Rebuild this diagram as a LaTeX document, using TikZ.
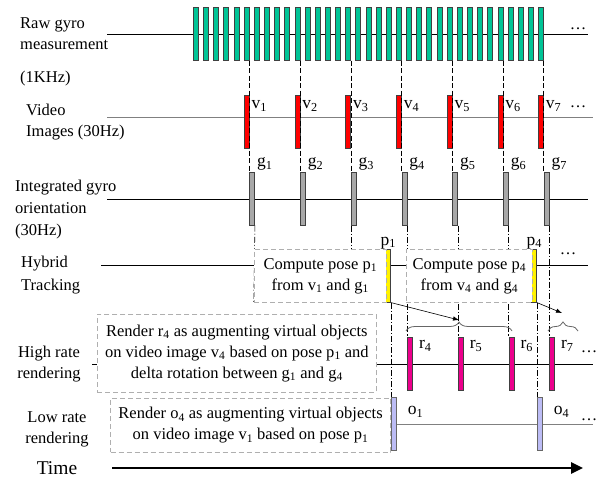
\documentclass[tikz,border=0pt]{standalone}
\usepackage{fontspec}
\setmainfont{Liberation Serif}
\usetikzlibrary{arrows.meta,decorations.pathreplacing,calc}
\pgfdeclarelayer{bg}
\pgfsetlayers{bg,main}
\definecolor{tealbar}{RGB}{0,196,150}
\definecolor{graybar}{RGB}{168,168,168}
\definecolor{lavbar}{RGB}{188,188,245}
\definecolor{boxgray}{RGB}{175,175,175}
\newcommand\lo[1]{\textsubscript{#1}}
\begin{document}
\begin{tikzpicture}[x=1pt,y=-1pt,
  every node/.style={font=\fontsize{16.5pt}{21pt}\selectfont, inner sep=0pt},
  bar/.style={draw=black!75, line width=0.6pt, minimum width=5pt, minimum height=53pt, anchor=north west, inner sep=0pt},
  rawbar/.style={bar, fill=tealbar},
  vbar/.style={bar, fill=red, anchor=north east},
  gbar/.style={bar, fill=graybar},
  pbar/.style={bar, fill=yellow, anchor=north east},
  rbar/.style={bar, fill=magenta},
  obar/.style={bar, fill=lavbar, draw=black!60},
  rowlabel/.style={align=left, anchor=west},
  lbl/.style={font=\fontsize{17.5pt}{21pt}\selectfont, anchor=west},
  dbox/.style={draw=boxgray, dash pattern=on 5pt off 3pt, line width=0.8pt, fill=white, align=center, inner sep=0pt},
  vdash/.style={black, line width=0.6pt, dash pattern=on 5pt off 2.5pt},
  vdashdot/.style={black, line width=0.6pt, dash pattern=on 6pt off 2pt on 1.2pt off 2pt},
  hline/.style={line width=0.8pt},
  bracestyle/.style={draw=black!60, line width=0.8pt, decorate, decoration={brace, amplitude=9pt}},
  tip/.style={line width=0.6pt, -{Latex[length=6pt,width=4.5pt]}}
]
\useasboundingbox (0,0) rectangle (607,481);

% row labels
\node[rowlabel] (lraw) at (20,34) {Raw gyro\\measurement};
\node[rowlabel] (lkhz) at (20,79) {(1KHz)};
\node[rowlabel] (lvid) at (26,122) {Video\\Images (30Hz)};
\node[rowlabel, font=\fontsize{16.5pt}{22pt}\selectfont] (lint) at (15,210) {Integrated gyro\\orientation\\(30Hz)};
\node[rowlabel, font=\fontsize{16.5pt}{23pt}\selectfont] (lhyb) at (21,275.5) {Hybrid\\Tracking};
\node[align=center] (lhigh) at (49,364) {High rate\\rendering};
\node[align=center] (llow) at (57,429) {Low rate\\rendering};
\node[font=\fontsize{19.5pt}{22pt}\selectfont] (ltime) at (57,468) {Time};

% raw gyro bars
\foreach \k in {0,...,34} \node[rawbar] (gy\k) at ({193+10.15*\k},7) {};

% video and gyro orientation bars
\foreach \i/\k in {1/5,2/10,3/15,4/20,5/25,6/30,7/34} {
  \node[vbar] (v\i) at (gy\k.south east |- 0,95) {};
  \node[gbar] (g\i) at (gy\k.south east |- 0,172) {};
  \node[lbl] (vl\i) at ($(v\i.north east)+(2,11)$) {v\lo{\i}};
  \node[lbl] (gl\i) at ($(g\i.north east)+(2,-8)$) {g\lo{\i}};
}

% hybrid tracking
\node[pbar] (p1) at (391,249) {};
\node[pbar] (p4) at (537,249) {};
\node[lbl, anchor=south] (pl1) at (p1.north) {p\lo{1}};
\node[lbl, anchor=south] (pl4) at (p4.north) {p\lo{4}};
\node[dbox, anchor=north west, minimum width=132.25pt, minimum height=53pt] (c1) at (253.75,249) {Compute pose p\lo{1}\\from v\lo{1} and g\lo{1}};
\node[dbox, anchor=north west, minimum width=126pt, minimum height=53pt] (c2) at (406,249) {Compute pose p\lo{4}\\from v\lo{4} and g\lo{4}};

% high rate rendering
\foreach \i in {4,...,7} {
  \node[rbar] (r\i) at (g\i.south east |- 0,337) {};
  \node[lbl] (rl\i) at ($(r\i.north east)+(6,9)$) {r\lo{\i}};
}
\node[dbox, anchor=north west, minimum width=279pt, minimum height=78pt] (rh) at (97,314) {Render r\lo{4} as augmenting virtual objects\\on video image v\lo{4} based on pose p\lo{1} and\\delta rotation between g\lo{1} and g\lo{4}};

% low rate rendering
\node[obar] (o1) at (p1.north east |- 0,397) {};
\node[obar] (o4) at (p4.north east |- 0,397) {};
\node[lbl] (ol1) at ($(o1.north east)+(11,15)$) {o\lo{1}};
\node[lbl] (ol4) at ($(o4.north east)+(11,15)$) {o\lo{4}};
\node[dbox, anchor=north east, minimum width=280pt, minimum height=54pt] (rl) at (o1.north west |- 0,398) {Render o\lo{4} as augmenting virtual objects\\on video image v\lo{1} based on pose p\lo{1}};

% ellipses
\node (e1) at (578,29) {\ldots};
\node (e2) at (578,107) {\ldots};
\node (e3) at (568,254) {\ldots};
\node (e4) at (589,352) {\ldots};
\node (e5) at (589,420) {\ldots};

% coordinates
\coordinate (rawL) at (107,34);   \coordinate (rawR) at (588,34);
\coordinate (vidL) at (107,117);  \coordinate (vidR) at (593,117);
\coordinate (intL) at (107,199);  \coordinate (intR) at (588,199);
\coordinate (hybL) at (101,265);  \coordinate (hybR) at (588,265);
\coordinate (hiL) at (92,364);    \coordinate (hiR) at (593,364);
\coordinate (lowR) at (593,424);
\coordinate (timeL) at (112,468); \coordinate (timeR) at (583,468);
\coordinate (b1a) at (406,331);   \coordinate (b1b) at (512,331);
\coordinate (b2a) at (548,331);   \coordinate (b2b) at (578,331);
\coordinate (t1) at (459,320);    \coordinate (t2) at (562,313);

\begin{pgfonlayer}{bg}
  \fill[white] (0,0) rectangle (607,481);
  \draw[hline] (rawL) -- (rawR);
  \draw[hline, gray] (vidL) -- (vidR);
  \draw[hline] (intL) -- (intR);
  \draw[hline] (hybL) -- (hybL -| c1.west);
  \draw[hline] (p1.east |- hybL) -- (hybL -| c2.west);
  \draw[hline] (p4.east |- hybL) -- (hybR);
  \draw[hline] (hiL) -- (hiR);
  \draw[hline, gray] (o1.east |- lowR) -- (lowR);
  % dash-dot connectors run behind the white boxes
  \draw[vdashdot] (g1.south east) -- (c1.south west);
  \draw[vdashdot] (g3.south west) -- (g3.south west |- c1.north);
  \foreach \i in {4,...,7}
    \draw[vdashdot] (g\i.south east) -- (r\i.north west);
  \draw[vdashdot] (p1.south east) -- (o1.north west);
  \draw[vdashdot] (p4.south east) -- (o4.north west);
\end{pgfonlayer}

% vertical dashed connectors
\foreach \i/\k in {1/5,2/10,3/15,4/20,5/25,6/30,7/34}
  \draw[vdash] (gy\k.south east) -- (g\i.north west);

% braces and arrows
\draw[bracestyle] (b1a) -- (b1b);
\draw[bracestyle] (b2a) -- (b2b);
\draw[tip] (p1.south east) -- (t1);
\draw[tip] (p4.south east) -- (t2);

% time arrow
\draw[line width=2.5pt, -{Triangle[length=12pt,width=11pt]}] (timeL) -- (timeR);
\end{tikzpicture}
\end{document}
